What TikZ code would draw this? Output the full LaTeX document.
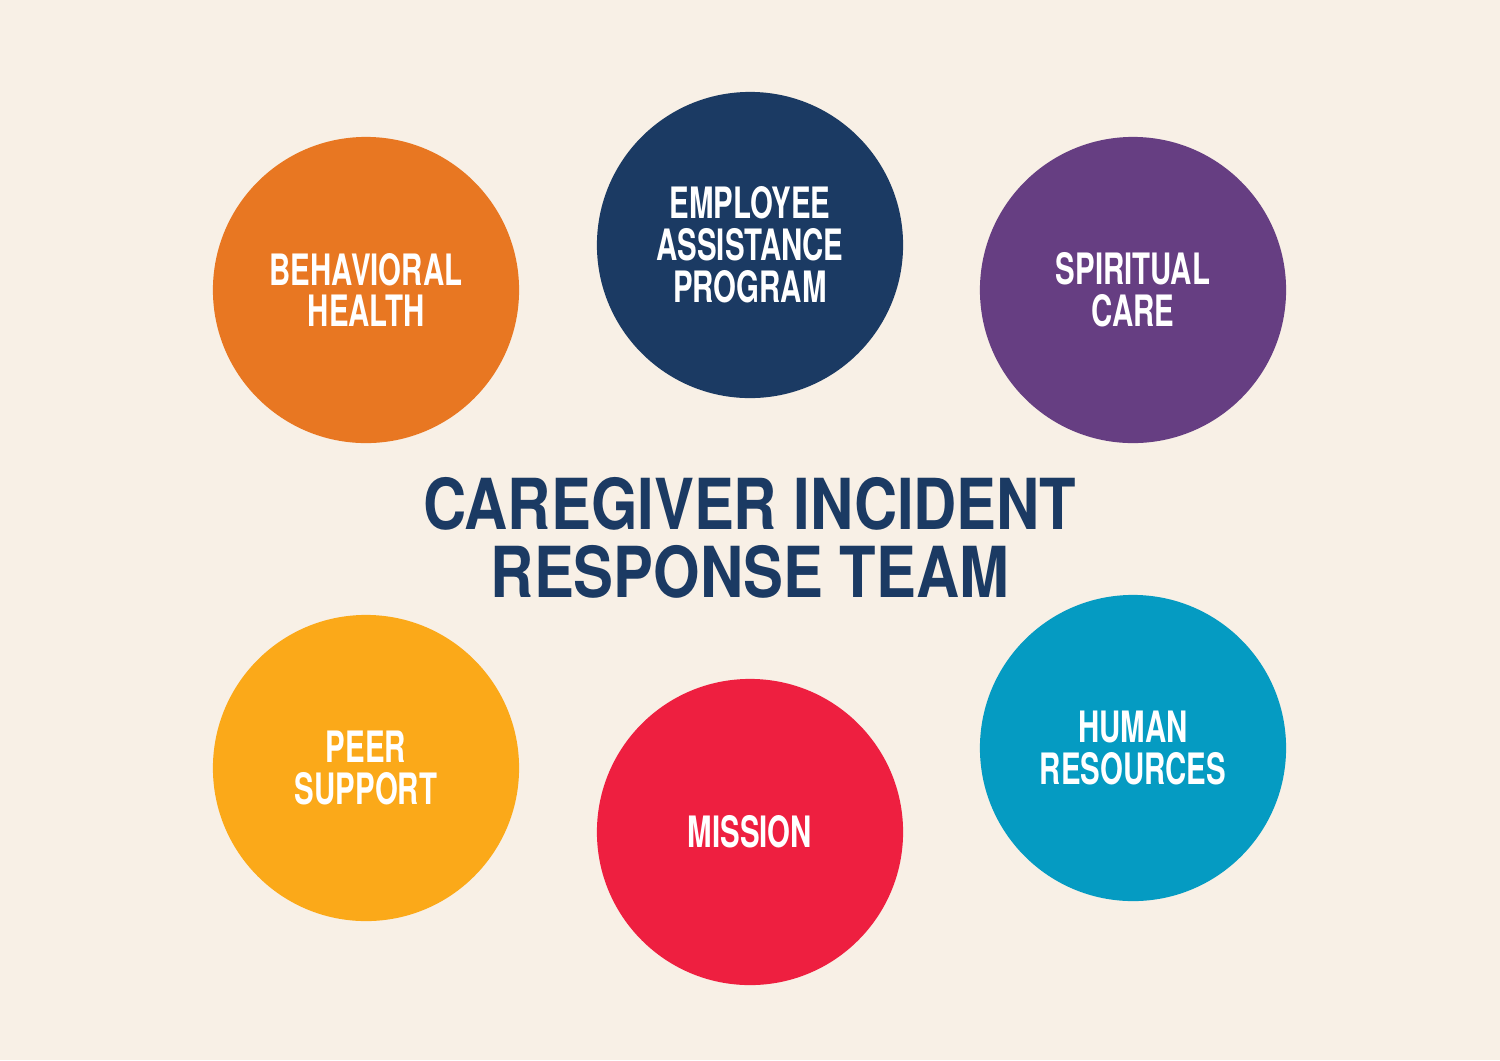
\documentclass[tikz,border=0pt]{standalone}
\usepackage{fontspec}
\newfontfamily\condfont[FakeStretch=0.68]{TeX Gyre Heros}
\newfontfamily\titlefont[FakeStretch=0.85]{TeX Gyre Heros}
\definecolor{bgc}{HTML}{F8F0E6}
\definecolor{orangec}{HTML}{E87722}
\definecolor{navyc}{HTML}{1B3A63}
\definecolor{purplec}{HTML}{663E82}
\definecolor{yellowc}{HTML}{FBA919}
\definecolor{redc}{HTML}{EE1F40}
\definecolor{tealc}{HTML}{059BC2}
\tikzset{
  bubble/.style={circle, fill=#1, minimum size=3.06cm, inner sep=0pt, align=center,
    text=white, font=\condfont\bfseries\fontsize{12.3}{11.9}\selectfont},
  titletext/.style={align=center, text=navyc, inner sep=0pt,
    font=\titlefont\bfseries\fontsize{20}{19.4}\selectfont}
}
\begin{document}
\begin{tikzpicture}[x=0.01cm, y=-0.01cm]
\fill[bgc] (0,0) rectangle (1500,1060);
\useasboundingbox (0,0) rectangle (1500,1060);
\node[bubble=orangec] (bh) at (366,290) {BEHAVIORAL\\HEALTH};
\node[bubble=navyc] (eap) at (750,245) {EMPLOYEE\\ASSISTANCE\\PROGRAM};
\node[bubble=purplec] (sc) at (1133,290) {SPIRITUAL\\CARE};
\node[bubble=yellowc] (ps) at (366,768) {PEER\\SUPPORT};
\node[bubble=redc] (mi) at (750,832) {MISSION};
\node[bubble=tealc] (hr) at (1133,748) {HUMAN\\RESOURCES};
\node[titletext] (title) at (750,538) {CAREGIVER INCIDENT\\RESPONSE TEAM};
\end{tikzpicture}
\end{document}
